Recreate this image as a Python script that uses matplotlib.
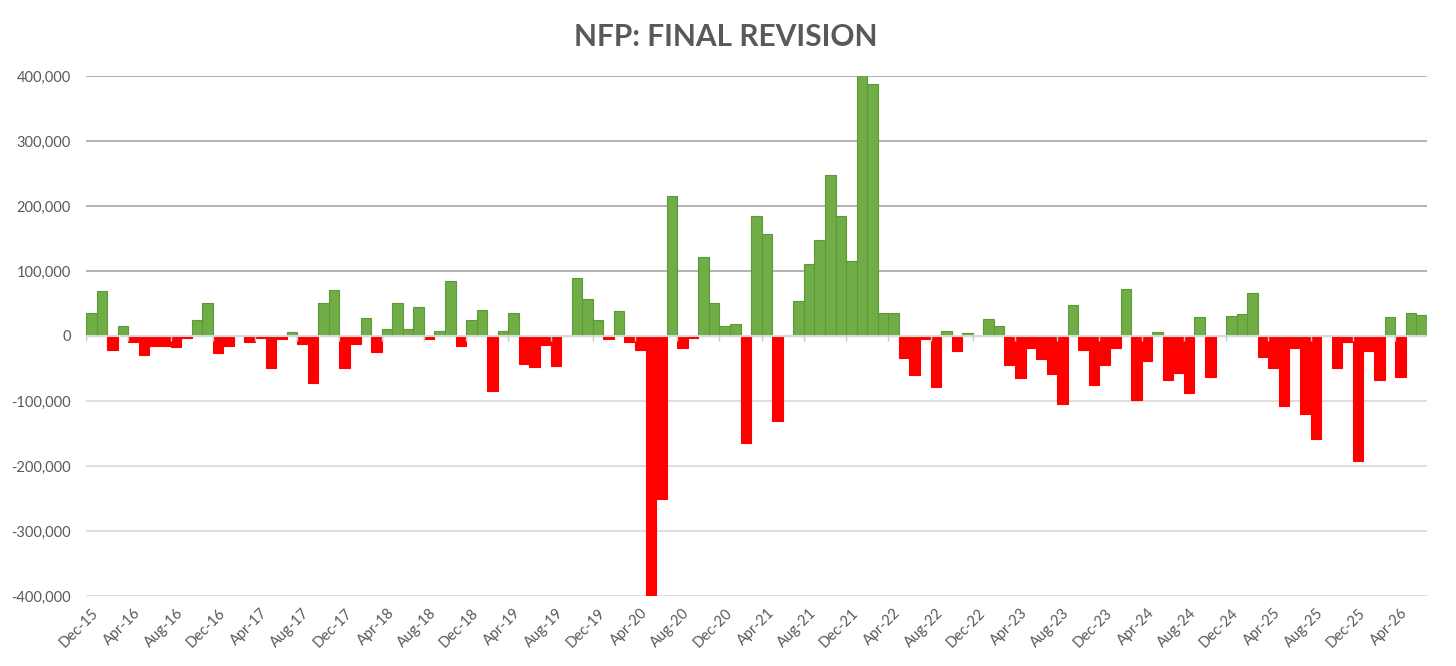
import numpy as np
import pandas as pd
import matplotlib.pyplot as plt
from matplotlib.ticker import FuncFormatter

# monthly final revisions, thousands of jobs, Dec-15 .. Jun-26
revisions_k = [
    35, 69, -22, 16, -9, -30, -16, -15, -17, -3,
    24, 51, -26, -15, 0, -10, -3, -49, -4, 6,
    -12, -72, 51, 70, -50, -12, 27, -25, 10, 51,
    10, 44, -5, 7, 85, -15, 24, 40, -85, 7,
    35, -43, -47, -14, -46, 0, 89, 57, 24, -5,
    39, -10, -21, -405, -250, 215, -19, -3, 121, 50,
    15, 18, -165, 184, 157, -131, 2, 54, 110, 147,
    247, 184, 116, 402, 388, 36, 35, -34, -60, -4,
    -78, 7, -23, 5, 0, 26, 16, -44, -64, -19,
    -36, -58, -105, 48, -21, -75, -44, -18, 72, -98,
    -39, 6, -67, -57, -88, 29, -63, 0, 30, 34,
    66, -32, -49, -108, -19, -120, -159, 0, -49, -10,
    -192, -23, -67, 29, -63, 35, 32,
]
values = np.array(revisions_k) * 1000
months = pd.date_range("2015-12-01", periods=len(values), freq="MS")
month_labels = list(months.strftime("%b-%y"))
yticks = [-400000, -300000, -200000, -100000, 0, 100000, 200000, 300000, 400000]

green = "#70AD47"
red = "#FF0000"
text_col = "#595959"

plt.rcParams["font.family"] = ["Lato", "DejaVu Sans"]

fig = plt.figure(figsize=(14.56, 6.66), dpi=100)
ax = fig.add_axes([0.0591, 0.1051, 0.9208, 0.7808])

x = np.arange(len(values))
cols = [green if v >= 0 else red for v in values]
edges = ["#5B9A35" if v >= 0 else red for v in values]
ax.bar(x, values, width=1.0, color=cols, edgecolor=edges, linewidth=0.8, zorder=2)

# gridlines: darker above zero, lighter below
for y in yticks:
    if y > 0:
        ax.axhline(y, color="#a6a6a6", lw=1.2, zorder=1)
    elif y < 0:
        ax.axhline(y, color="#d9d9d9", lw=1.2, zorder=1)
ax.axhline(0, color="#d9d9d9", lw=1.5, zorder=3)

# small tick marks on the zero line every 4 months
step = 4
tick_idx = x[::step]
ax.vlines(tick_idx - 0.5, -7000, 0, color="#c8c8c8", lw=1.0, zorder=3)

ax.set_xlim(-0.5, len(values) - 0.5)
ax.set_ylim(-400000, 400000)
ax.set_yticks(yticks)
ax.yaxis.set_major_formatter(FuncFormatter(lambda v, p: f"{int(v):,}"))
ax.set_xticks(tick_idx)
ax.set_xticklabels([month_labels[i] for i in tick_idx], rotation=45,
                   ha="right", rotation_mode="anchor")

ax.tick_params(axis="y", length=0, pad=11, labelsize=10.5, labelcolor=text_col)
ax.tick_params(axis="x", length=0, pad=7, labelsize=10.5, labelcolor=text_col)
for s in ax.spines.values():
    s.set_visible(False)

fig.text(0.4986, 0.945, "NFP: FINAL REVISION", ha="center", va="center",
         fontsize=21.5, fontweight="bold", color=text_col)

fig.savefig("out.png", dpi=100)
